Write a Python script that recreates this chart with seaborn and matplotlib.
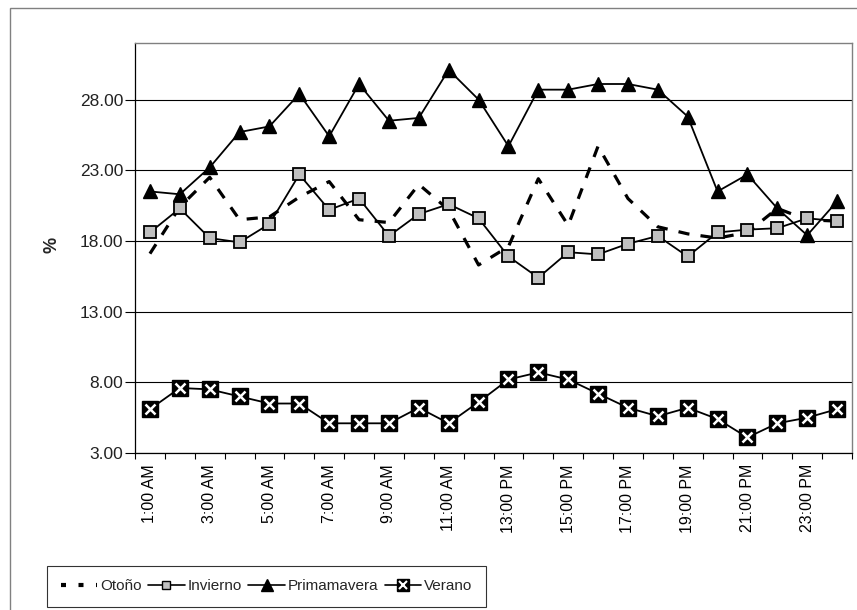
import numpy as np
import pandas as pd
import matplotlib
matplotlib.use("Agg")
import matplotlib.pyplot as plt
import seaborn as sns
from matplotlib.lines import Line2D
from matplotlib.legend_handler import HandlerTuple
from matplotlib.patches import Rectangle

# ---- data ----
hours = ["1:00 AM", "2:00 AM", "3:00 AM", "4:00 AM", "5:00 AM", "6:00 AM",
         "7:00 AM", "8:00 AM", "9:00 AM", "10:00 AM", "11:00 AM", "12:00 PM",
         "13:00 PM", "14:00 PM", "15:00 PM", "16:00 PM", "17:00 PM", "18:00 PM",
         "19:00 PM", "20:00 PM", "21:00 PM", "22:00 PM", "23:00 PM", "24:00 PM"]
otono = [17.1, 20.4, 22.5, 19.5, 19.7, 21.1, 22.2, 19.5, 19.3, 22.0, 20.2, 16.3,
         17.6, 22.4, 19.1, 24.7, 21.0, 19.0, 18.5, 18.2, 18.6, 20.3, 19.5, 19.4]
invierno = [18.6, 20.3, 18.2, 17.9, 19.2, 22.7, 20.2, 21.0, 18.35, 19.9, 20.6, 19.6,
            16.9, 15.4, 17.2, 17.05, 17.8, 18.35, 16.9, 18.6, 18.8, 18.9, 19.6, 19.4]
primavera = [21.5, 21.3, 23.2, 25.7, 26.1, 28.4, 25.4, 29.1, 26.5, 26.7, 30.1, 28.0,
             24.7, 28.7, 28.7, 29.1, 29.1, 28.7, 26.8, 21.5, 22.7, 20.3, 18.4, 20.8]
verano = [6.1, 7.6, 7.5, 7.0, 6.5, 6.5, 5.1, 5.1, 5.1, 6.2, 5.1, 6.6,
          8.2, 8.7, 8.2, 7.2, 6.2, 5.6, 6.2, 5.4, 4.1, 5.1, 5.5, 6.1]
series_names = ["Otoño", "Invierno", "Primamavera", "Verano"]
y_ticks = [3, 8, 13, 18, 23, 28]

df = pd.DataFrame({"x": np.arange(len(hours)), "hora": hours,
                   "Otoño": otono, "Invierno": invierno,
                   "Primamavera": primavera, "Verano": verano})

sns.set_theme(style="white")
plt.rcParams["font.family"] = ["Liberation Sans", "DejaVu Sans"]

W, H = 857, 610
fig = plt.figure(figsize=(W / 100, H / 100), dpi=100)
ax = fig.add_axes([135 / W, 1 - 453 / H, (852 - 135) / W, (453 - 43) / H])

# outer chart border (cropped at right/bottom)
fig.add_artist(Rectangle((10 / W, -0.05), 1.0, 1 - 8 / H + 0.05,
                         transform=fig.transFigure, fill=False,
                         edgecolor="#808080", linewidth=1.0))

# gridlines
ax.set_axisbelow(True)
ax.grid(axis="y", color="black", linewidth=0.8)
ax.grid(axis="x", visible=False)

sns.lineplot(data=df, x="x", y="Otoño", ax=ax, color="black", linewidth=2.3,
             linestyle=(0, (3.5, 3.5)), dash_capstyle="butt")
sns.lineplot(data=df, x="x", y="Invierno", ax=ax, color="black", linewidth=1.3,
             marker="s", markersize=8.5, markerfacecolor="#c0c0c0",
             markeredgecolor="black", markeredgewidth=1.3)
sns.lineplot(data=df, x="x", y="Primamavera", ax=ax, color="black", linewidth=1.3,
             marker="^", markersize=10.5, markerfacecolor="black",
             markeredgecolor="black", markeredgewidth=1.0)
sns.lineplot(data=df, x="x", y="Verano", ax=ax, color="black", linewidth=1.3,
             marker="s", markersize=11, markerfacecolor="black",
             markeredgecolor="black", markeredgewidth=1.0)
sns.lineplot(data=df, x="x", y="Verano", ax=ax, color="white", linestyle="",
             marker="x", markersize=7.5, markeredgecolor="white",
             markeredgewidth=1.8)

# axes
ax.set_xlim(-0.5, len(hours) - 0.5)
ax.set_ylim(3, 32)
ax.set_xlabel("")
ax.set_ylabel("")
ax.set_xticks(np.arange(len(hours)))
ax.set_xticklabels([h if i % 2 == 0 else "" for i, h in enumerate(hours)],
                   rotation=90, fontsize=11.5, va="top", ha="center")
ax.set_xticks(np.arange(-0.5, len(hours), 1), minor=True)
ax.tick_params(axis="x", which="major", length=0, pad=8, colors="black")
ax.tick_params(axis="x", which="minor", length=4, width=0.8, direction="out",
               colors="black", bottom=True)
ax.set_yticks(y_ticks)
ax.set_yticklabels([f"{v:.2f}" for v in y_ticks], fontsize=12.5, color="#222222")
ax.tick_params(axis="y", length=7, width=0.8, pad=1.5, direction="out", left=True,
               color="black")

for side in ["left", "bottom"]:
    ax.spines[side].set_color("black")
    ax.spines[side].set_linewidth(0.9)
for side in ["top", "right"]:
    ax.spines[side].set_color("#808080")
    ax.spines[side].set_linewidth(1.0)

fig.text(52 / W, 1 - 245 / H, "%", rotation=90, fontsize=13, fontweight="bold",
         ha="center", va="center")

# legend
h_ot = Line2D([], [], color="black", linewidth=3, linestyle=(0, (1.2, 3)))
h_inv = Line2D([], [], color="black", linewidth=1.2, marker="s", markersize=6,
               markerfacecolor="#c0c0c0", markeredgecolor="black", markeredgewidth=1)
h_pri = Line2D([], [], color="black", linewidth=1.2, marker="^", markersize=8,
               markerfacecolor="black", markeredgecolor="black")
h_ver = (Line2D([], [], color="black", linewidth=1.2, marker="s", markersize=9,
                markerfacecolor="black", markeredgecolor="black"),
         Line2D([], [], color="white", linestyle="", marker="x", markersize=6,
                markeredgecolor="white", markeredgewidth=1.5))
leg = fig.legend([h_ot, h_inv, h_pri, h_ver], series_names,
                 handler_map={tuple: HandlerTuple(ndivide=1, pad=0)},
                 ncol=4, loc="lower left",
                 bbox_to_anchor=(47 / W, 3 / H),
                 frameon=True, fancybox=False, edgecolor="black",
                 handlelength=2.4, handletextpad=0.2, columnspacing=0.4,
                 borderpad=0.9, borderaxespad=0,
                 prop={"size": 11})
leg.get_frame().set_linewidth(0.8)

fig.savefig("out.png", dpi=100)
